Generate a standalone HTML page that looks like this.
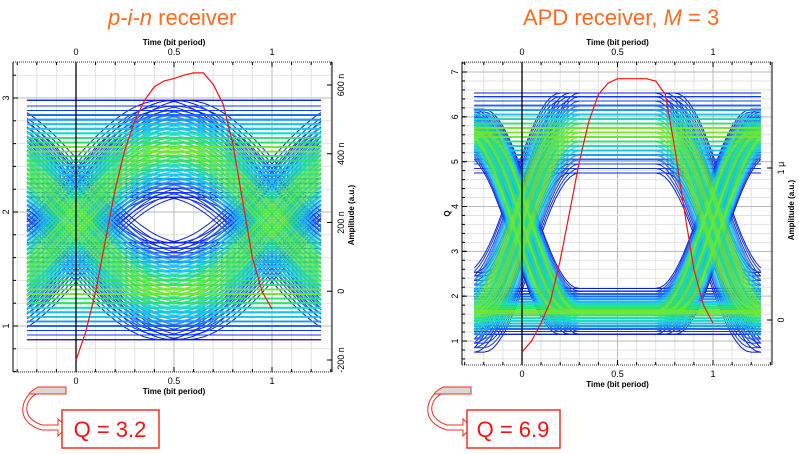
<!DOCTYPE html>
<html><head><meta charset="utf-8">
<style>
html,body{margin:0;padding:0;background:#fff;}
body{width:799px;height:454px;overflow:hidden;position:relative;font-family:"Liberation Sans",sans-serif;}
svg{position:absolute;left:0;top:0;}
</style></head>
<body>
<svg id="root" width="799" height="454" viewBox="0 0 799 454">
  <text x="108" y="25" font-size="22" fill="#ff6a20"><tspan font-style="italic">p-i-n</tspan> receiver</text>
  <text x="523" y="25" font-size="22" fill="#ff6a20">APD receiver, <tspan font-style="italic">M</tspan> = 3</text>
  <g id="plotL"></g>
  <g id="plotR"></g>
  <g>
    <path d="M66,392 L40,392 C24,398 20,418 42,425 L58,425 L58,419 L67,427 L58,436 L58,430 L42,430 C14,422 20,397 38,387 L66,387 Z" fill="#fff" stroke="#f03020" stroke-width="1"/>
    <path d="M66,387 L38,387 C33,390 30,392 29,394 L66,394 Z" fill="#d8d8d8" stroke="#f03020" stroke-width="1"/>
    <rect x="62" y="410" width="97" height="38" fill="#fff" stroke="#f03020" stroke-width="1.5"/>
    <text x="110" y="437" font-size="22" fill="#ff1010" text-anchor="middle">Q = 3.2</text>
  </g>
  <g>
    <path d="M471,392 L445,392 C429,398 425,418 447,425 L463,425 L463,419 L472,427 L463,436 L463,430 L447,430 C419,422 425,397 443,387 L471,387 Z" fill="#fff" stroke="#f03020" stroke-width="1"/>
    <path d="M471,387 L443,387 C438,390 435,392 434,394 L471,394 Z" fill="#d8d8d8" stroke="#f03020" stroke-width="1"/>
    <rect x="467" y="410" width="93" height="38" fill="#fff" stroke="#f03020" stroke-width="1.5"/>
    <text x="513" y="437" font-size="22" fill="#ff1010" text-anchor="middle">Q = 6.9</text>
  </g>
</svg>
<script>
// ---- data: p-i-n receiver ----
const pinLevels = [1.3, 2.55];
const pinOffsets = [-0.42,-0.38,-0.34,-0.3,-0.26,-0.22,-0.18,-0.14,-0.1,-0.06,-0.02,0.02,0.06,0.1,0.14,0.18,0.22,0.26,0.3,0.34,0.38,0.43];
const pinShifts = [-0.06,0,0.06];
const pinRedT = [0,0.05,0.1,0.15,0.2,0.25,0.3,0.35,0.4,0.45,0.5,0.55,0.6,0.65,0.7,0.75,0.8,0.85,0.9,0.95,1];
const pinRedV = [0.7,0.95,1.3,1.75,2.2,2.55,2.8,2.98,3.1,3.15,3.17,3.2,3.22,3.22,3.12,2.95,2.6,2.1,1.6,1.3,1.15];
const pinLeftTicks = ["1","2","3"];
const pinRightTicks = ["-200 n","0","200 n","400 n","600 n"];
// ---- data: APD receiver ----
const apdLevels = [1.65, 5.65];
const apdOffsetsZero = [-0.5,-0.44,-0.38,-0.32,-0.26,-0.2,-0.14,-0.08,-0.03,0.02,0.07,0.12,0.17,0.22,0.28,0.34,0.4,0.46,0.52];
const apdOffsetsOne = [-0.9,-0.8,-0.7,-0.6,-0.5,-0.4,-0.3,-0.2,-0.1,0,0.1,0.2,0.3,0.4,0.5,0.6,0.7,0.8,0.88];
const apdShifts = [-0.05,0,0.05];
const apdRedT = [0,0.05,0.1,0.15,0.2,0.25,0.3,0.35,0.4,0.45,0.5,0.55,0.6,0.65,0.7,0.75,0.8,0.85,0.9,0.95,1];
const apdRedV = [0.75,1.0,1.4,1.9,2.8,3.9,5.0,5.9,6.5,6.75,6.85,6.85,6.85,6.85,6.8,6.5,5.3,3.9,2.6,1.8,1.4];
const apdLeftTicks = ["1","2","3","4","5","6","7"];
const apdRightTicks = ["0","1 μ"];
const timeTicks = ["0","0.5","1"];

const NS="http://www.w3.org/2000/svg";
function el(tag,attrs,parent){const e=document.createElementNS(NS,tag);for(const k in attrs)e.setAttribute(k,attrs[k]);parent.appendChild(e);return e;}

function makePlot(g,cfg){
  const X=t=>cfg.x0+(cfg.x1-cfg.x0)*t;
  const Y=v=>cfg.yA+(cfg.yB-cfg.yA)*(v-cfg.vA)/(cfg.vB-cfg.vA);
  const grid=el('g',{},g);
  
  
  for(let i=-3;i<=13;i++){const x=X(i/10);if(x<cfg.fl||x>cfg.fr)continue;
    el('line',{x1:x,x2:x,y1:cfg.ft,y2:cfg.fb,stroke:(i%5==0)?'#b8b8b8':'#e2e2e2','stroke-width':1},grid);}
  for(let v=cfg.gv0;v<=cfg.gv1+1e-9;v+=cfg.gstep){const y=Y(v);if(y<cfg.ft||y>cfg.fb)continue;
    const major=Math.abs(v-Math.round(v))<1e-6;
    el('line',{x1:cfg.fl,x2:cfg.fr,y1:y,y2:y,stroke:major?'#b8b8b8':'#e2e2e2','stroke-width':1},grid);}
  const tr=el('g',{fill:'none','stroke-linejoin':'round'},g);
  
  
  const colors=['#0a20e0','#1238f0','#1a66f0','#1a9cf0','#18c4e8','#1cdcc0','#30e070','#70e830'];
  const items=[];
  for(let p=0;p<8;p++){const bits=[(p>>2)&1,(p>>1)&1,p&1];
    for(const o of cfg.offs(bits))for(const s of cfg.shifts)
      items.push({bits,o,s,mag:Math.abs(o)/cfg.maxOff(bits)});}
  items.sort((a,b)=>b.mag-a.mag);
  const step=t=>{const w=cfg.tw;return t<=-w/2?0:t>=w/2?1:(1-Math.cos(Math.PI*(t+w/2)/w))/2;};
  for(const it of items){
    const lv=it.bits.map(b=>cfg.levels[b]);
    let d='';
    for(let k=0;k<=60;k++){const t=-0.25+1.5*k/60;
      let v=lv[0]+(lv[1]-lv[0])*step(t-it.s)+(lv[2]-lv[1])*step(t-1-it.s)+it.o;
      d+=(k?'L':'M')+X(t).toFixed(1)+','+Y(v).toFixed(1);}
    const ci=Math.min(colors.length-1,Math.max(0,Math.floor((1-it.mag)*colors.length)));
    const p=el('path',{d,stroke:colors[ci],'stroke-width':ci<2?0.9:1.8,'stroke-opacity':ci<2?0.85:0.5},tr);
    
    
  }
  el('line',{x1:X(0),x2:X(0),y1:cfg.ft,y2:cfg.fb,stroke:'#000','stroke-width':1.3},g);
  let d='';cfg.redT.forEach((t,i)=>{d+=(i?'L':'M')+X(t).toFixed(1)+','+Y(cfg.redV[i]).toFixed(1);});
  const red=el('path',{d,stroke:'#ff1010','stroke-width':1.2,fill:'none'},g);
  
  
  const fr=el('rect',{x:cfg.fl,y:cfg.ft,width:cfg.fr-cfg.fl,height:cfg.fb-cfg.ft,fill:'none',stroke:'#333','stroke-width':1,'stroke-dasharray':'1,1'},g);
  
  
  el('line',{x1:cfg.fl,x2:cfg.fl,y1:cfg.ft,y2:cfg.fb,stroke:'#000','stroke-width':1},g);
  el('line',{x1:cfg.fr,x2:cfg.fr,y1:cfg.ft,y2:cfg.fb,stroke:'#000','stroke-width':1},g);
  for(let i=-3;i<=13;i++){const x=X(i/10);if(x<cfg.fl||x>cfg.fr)continue;const L=(i%5==0)?5:3;
    el('line',{x1:x,x2:x,y1:cfg.fb,y2:cfg.fb-L,stroke:'#000'},g);el('line',{x1:x,x2:x,y1:cfg.ft,y2:cfg.ft+L,stroke:'#000'},g);}
  timeTicks.forEach(s=>{const x=X(parseFloat(s));
    const a=el('text',{x,y:cfg.ft-7,'font-size':9,'text-anchor':'middle',fill:'#000'},g);a.textContent=s;
    
    const b=el('text',{x,y:cfg.fb+12,'font-size':9,'text-anchor':'middle',fill:'#000'},g);b.textContent=s;
    });
  const tt=el('text',{x:(X(0)+X(1))/2,y:cfg.ft-17,'font-size':8,'font-weight':'bold','text-anchor':'middle'},g);tt.textContent='Time (bit period)';
  
  const bt=el('text',{x:(X(0)+X(1))/2,y:cfg.fb+22,'font-size':8,'font-weight':'bold','text-anchor':'middle'},g);bt.textContent='Time (bit period)';
  
  cfg.leftTicks.forEach(s=>{const y=Y(parseFloat(s));
    el('line',{x1:cfg.fl,x2:cfg.fl+5,y1:y,y2:y,stroke:'#000'},g);
    const t=el('text',{x:cfg.fl-4,y,'font-size':9,'text-anchor':'middle',transform:`rotate(-90 ${cfg.fl-4} ${y})`},g);t.textContent=s;
    });
  for(let v=cfg.gv0;v<=cfg.gv1+1e-9;v+=cfg.gstep){const y=Y(v);if(y<cfg.ft||y>cfg.fb)continue;
    el('line',{x1:cfg.fl,x2:cfg.fl+3,y1:y,y2:y,stroke:'#000'},g);}
  if(cfg.leftTitle){const t=el('text',{x:cfg.fl-12,y:(cfg.ft+cfg.fb)/2,'font-size':8,'font-weight':'bold','text-anchor':'middle',transform:`rotate(-90 ${cfg.fl-12} ${(cfg.ft+cfg.fb)/2})`},g);t.textContent=cfg.leftTitle;
    }
  cfg.rightTicks.forEach((s,i)=>{const y=cfg.rY[i];
    el('line',{x1:cfg.fr,x2:cfg.fr-5,y1:y,y2:y,stroke:'#000'},g);
    const t=el('text',{x:cfg.fr+12,y,'font-size':9,'text-anchor':'middle',transform:`rotate(-90 ${cfg.fr+12} ${y})`},g);t.textContent=s;
    });
  const rt=el('text',{x:cfg.fr+22,y:cfg.rTitleY,'font-size':8,'font-weight':'bold','text-anchor':'middle',transform:`rotate(-90 ${cfg.fr+22} ${cfg.rTitleY})`},g);rt.textContent='Amplitude (a.u.)';
  
}

makePlot(document.getElementById('plotL'),{
  x0:76,x1:272,yA:98,yB:326,vA:3,vB:1,fl:13,fr:332,ft:62,fb:372,gv0:0.6,gv1:3.4,gstep:0.2,
  levels:pinLevels,tw:1.0,shifts:pinShifts,offs:()=>pinOffsets,maxOff:()=>0.44,
  redT:pinRedT,redV:pinRedV,leftTicks:pinLeftTicks,rightTicks:pinRightTicks,
  rY:pinRightTicks.map((s,i)=>360-i*(360-85)/4),rTitleY:215,leftTitle:''
});
makePlot(document.getElementById('plotR'),{
  x0:522,x1:713,yA:72,yB:341,vA:7,vB:1,fl:462,fr:772,ft:62,fb:365,gv0:0.4,gv1:7.2,gstep:0.2,
  levels:apdLevels,tw:0.5,shifts:apdShifts,offs:b=>b[1]?apdOffsetsOne:apdOffsetsZero,maxOff:b=>b[1]?0.92:0.54,
  redT:apdRedT,redV:apdRedV,leftTicks:apdLeftTicks,rightTicks:apdRightTicks,
  rY:[320,168],rTitleY:210,leftTitle:'Q'
});
</script>
</body></html>
